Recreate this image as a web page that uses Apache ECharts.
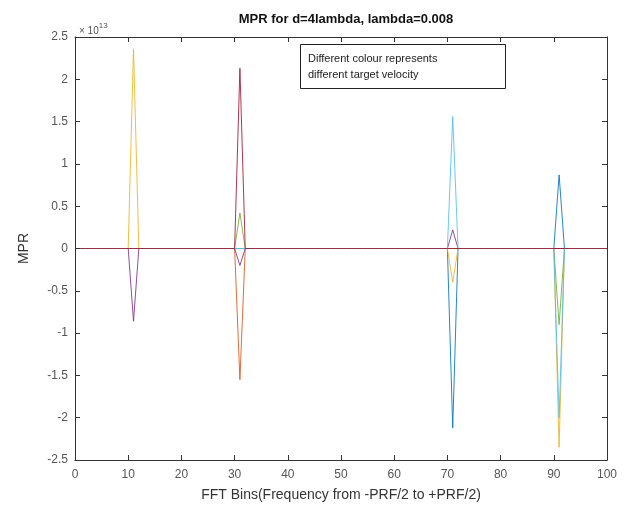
<!DOCTYPE html>
<html><head><meta charset="utf-8">
<script src="https://cdn.jsdelivr.net/npm/echarts@6/dist/echarts.min.js"></script>
<style>html,body{margin:0;padding:0;background:#fff}#c{width:637px;height:509px}</style>
</head><body><div id="c"></div>
<script>
// FFT bins shown on the x axis
var binCount = 100;
// bins where the spikes occur
var peakBins = [11, 31, 71, 91];
// series colours (MATLAB default order)
var seriesColors = ['#0072BD', '#D95319', '#EDB120', '#7E2F8E', '#77AC30', '#4DBEEE', '#A2142F'];
// spike values (x 1e13) at peakBins for each velocity
var blueVals   = [0, 0, -2.12, 0.87];
var orangeVals = [0, -1.55, 0, 0];
var yellowVals = [2.36, 0, -0.40, -2.35];
var purpleVals = [-0.86, -0.20, 0.22, 0];
var greenVals  = [0, 0.42, 0, -0.90];
var cyanVals   = [0, 0, 1.56, -2.0];
var redVals    = [0, 2.13, 0, 0];
var allVals = [blueVals, orangeVals, yellowVals, purpleVals, greenVals, cyanVals, redVals];

function buildSeries(vals) {
  var d = [];
  for (var b = 1; b <= binCount; b++) {
    var i = peakBins.indexOf(b);
    d.push([b, i >= 0 ? vals[i] : 0]);
  }
  return d;
}
var series = allVals.map(function (v, k) {
  return {
    type: 'line', data: buildSeries(v), symbol: 'none',
    lineStyle: { width: 1, color: seriesColors[k], opacity: 0.85 }, itemStyle: { color: seriesColors[k] },
    xAxisIndex: 0, yAxisIndex: 0, silent: true, animation: false
  };
});
var font = 'Liberation Sans, Arial, sans-serif';
var lbl = { color: '#555', fontSize: 12, fontFamily: font };
function axLine() { return { show: true, onZero: false, lineStyle: { color: '#333', width: 1 } }; }
function axTick() { return { show: true, inside: true, length: 5, lineStyle: { color: '#333' } }; }
var chart = echarts.init(document.getElementById('c'));
chart.setOption({
  animation: false,
  title: { text: 'MPR for d=4lambda, lambda=0.008', left: 341, top: 8, textAlign: 'center',
    textStyle: { fontSize: 13, fontWeight: 'bold', color: '#111', fontFamily: font } },
  grid: { left: 75, right: 30, top: 37, bottom: 49, show: false },
  xAxis: [
    { type: 'value', min: 0, max: 100, interval: 10, position: 'bottom',
      axisLine: axLine(), axisTick: axTick(),
      axisLabel: Object.assign({ margin: 9 }, lbl), splitLine: { show: false },
      name: 'FFT Bins(Frequency from -PRF/2 to +PRF/2)', nameLocation: 'middle', nameGap: 28,
      nameTextStyle: { fontSize: 14, color: '#333', fontFamily: font } },
    { type: 'value', min: 0, max: 100, interval: 10, position: 'top',
      axisLine: axLine(), axisTick: axTick(),
      axisLabel: { show: false }, splitLine: { show: false } }
  ],
  yAxis: [
    { type: 'value', min: -2.5, max: 2.5, interval: 0.5, position: 'left',
      axisLine: axLine(), axisTick: axTick(),
      axisLabel: Object.assign({ margin: 7, formatter: function (v) { return String(Math.round(v * 10) / 10); } }, lbl),
      splitLine: { show: false },
      name: 'MPR', nameLocation: 'middle', nameGap: 44, nameRotate: 90,
      nameTextStyle: { fontSize: 14, color: '#333', fontFamily: font } },
    { type: 'value', min: -2.5, max: 2.5, interval: 0.5, position: 'right',
      axisLine: axLine(), axisTick: axTick(),
      axisLabel: { show: false }, splitLine: { show: false } }
  ],
  series: series,
  graphic: [
    { type: 'text', left: 79, top: 22, style: {
      text: '{a|× 10}{b|13}', fill: '#333', font: '10px ' + font,
      rich: { a: { fontSize: 10, fontFamily: font, fill: '#555', padding: [4, 0, 0, 0] },
              b: { fontSize: 8, fontFamily: font, fill: '#555', verticalAlign: 'top' } } } },
    { type: 'rect', shape: { x: 300.5, y: 44.5, width: 205, height: 44 },
      style: { fill: '#fff', stroke: '#222', lineWidth: 1 }, z: 10 },
    { type: 'text', left: 308, top: 51, z: 11, style: {
      text: 'Different colour represents\ndifferent target velocity', fill: '#222',
      font: '11px ' + font, lineHeight: 16 } }
  ]
});
</script></body></html>
